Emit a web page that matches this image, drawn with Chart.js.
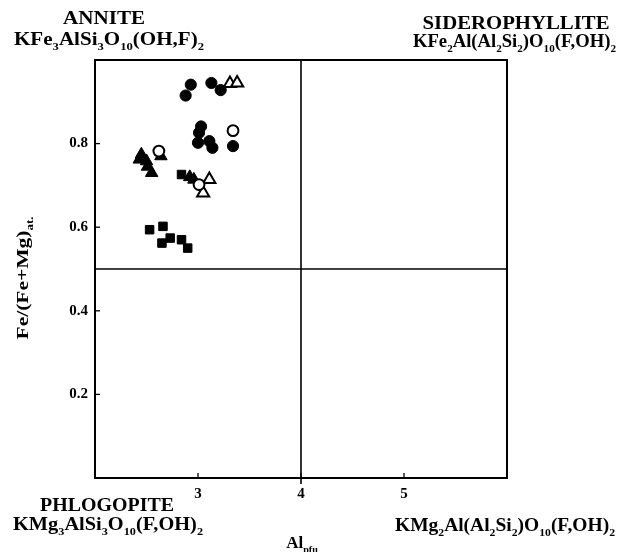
<!DOCTYPE html>
<html>
<head>
<meta charset="utf-8">
<script src="https://cdn.jsdelivr.net/npm/chart.js@4/dist/chart.umd.min.js"></script>
<style>
  html, body { margin: 0; padding: 0; background: #fff; }
  #wrap { width: 631px; height: 552px; }
</style>
</head>
<body>
<div id="wrap"><canvas id="c" width="631" height="552"></canvas></div>
<script>
// Al (pfu) and Fe/(Fe+Mg) for each symbol group
const filledCircleAl = [2.93, 2.88, 3.13, 3.22, 3.03, 3.01, 3.00, 3.11, 3.14, 3.34];
const filledCircleFe = [0.941, 0.915, 0.945, 0.928, 0.841, 0.826, 0.802, 0.806, 0.790, 0.794];

const openCircleAl = [3.34, 2.62, 3.01];
const openCircleFe = [0.831, 0.782, 0.702];

const filledTriangleAl = [2.45, 2.43, 2.50, 2.51, 2.55, 2.64, 2.92, 2.96];
const filledTriangleFe = [0.774, 0.762, 0.758, 0.745, 0.730, 0.770, 0.720, 0.714];

const openTriangleAl = [3.31, 3.38, 3.11, 3.05];
const openTriangleFe = [0.944, 0.945, 0.714, 0.682];

const filledSquareAl = [2.84, 2.53, 2.66, 2.65, 2.73, 2.84, 2.90];
const filledSquareFe = [0.726, 0.594, 0.602, 0.562, 0.574, 0.570, 0.550];

// axis ticks and reference lines
const xTickLabels = [3, 4, 5];
const yTickLabels = [0.2, 0.4, 0.6, 0.8];
const alDivide = 4;
const feDivide = 0.5;

const FONT = '"Liberation Serif", "Times New Roman", serif';

function pts(xs, ys) { return xs.map((x, i) => ({ x: x, y: ys[i] })); }

// "_x" or "_{xy}" marks a subscript
function parseRich(s) {
  const out = []; let i = 0, buf = '';
  while (i < s.length) {
    if (s[i] === '_') {
      if (buf) { out.push([buf, false]); buf = ''; }
      if (s[i + 1] === '{') { const j = s.indexOf('}', i); out.push([s.slice(i + 2, j), true]); i = j + 1; }
      else { out.push([s[i + 1], true]); i += 2; }
    } else { buf += s[i]; i++; }
  }
  if (buf) out.push([buf, false]);
  return out;
}

function drawRich(ctx, s, x, y, size, align, width) {
  const parts = parseRich(s);
  const subSize = size * 0.6;
  const fonts = parts.map(p => 'bold ' + (p[1] ? subSize : size) + 'px ' + FONT);
  const ws = parts.map((p, k) => { ctx.font = fonts[k]; return ctx.measureText(p[0]).width; });
  const natural = ws.reduce((a, b) => a + b, 0);
  const sx = width ? width / natural : 1;
  const total = natural * sx;
  const x0 = align === 'center' ? x - total / 2 : (align === 'right' ? x - total : x);
  ctx.save();
  ctx.translate(x0, y);
  ctx.scale(sx, 1);
  ctx.fillStyle = '#000';
  ctx.textBaseline = 'alphabetic';
  ctx.textAlign = 'left';
  let cx = 0;
  parts.forEach((p, k) => {
    ctx.font = fonts[k];
    ctx.fillText(p[0], cx, p[1] ? size * 0.28 : 0);
    cx += ws[k];
  });
  ctx.restore();
}

const framePlugin = {
  id: 'frame',
  beforeDatasetsDraw(chart) {
    const { ctx, chartArea: a, scales: { x, y } } = chart;
    ctx.save();
    ctx.strokeStyle = '#000';
    ctx.lineWidth = 2;
    ctx.strokeRect(a.left, a.top, a.right - a.left, a.bottom - a.top);
    ctx.lineWidth = 1.6;
    const xv = x.getPixelForValue(alDivide);
    ctx.beginPath(); ctx.moveTo(xv, a.top); ctx.lineTo(xv, a.bottom + 6); ctx.stroke();
    const yv = y.getPixelForValue(feDivide);
    ctx.beginPath(); ctx.moveTo(a.left, yv); ctx.lineTo(a.right, yv); ctx.stroke();
    ctx.lineWidth = 1.3;
    xTickLabels.forEach(v => {
      const px = x.getPixelForValue(v);
      ctx.beginPath(); ctx.moveTo(px, a.bottom); ctx.lineTo(px, a.bottom - 5); ctx.stroke();
    });
    yTickLabels.forEach(v => {
      const py = y.getPixelForValue(v);
      ctx.beginPath(); ctx.moveTo(a.left, py); ctx.lineTo(a.left + 5, py); ctx.stroke();
    });
    ctx.restore();
  },
  afterDraw(chart) {
    const ctx = chart.ctx;
    // end-member names and formulas
    drawRich(ctx, 'ANNITE', 104, 24, 19, 'center', 82);
    drawRich(ctx, 'KFe_3AlSi_3O_{10}(OH,F)_2', 14, 45, 18, 'left', 190);
    drawRich(ctx, 'SIDEROPHYLLITE', 516, 29, 19, 'center', 187);
    drawRich(ctx, 'KFe_2Al(Al_2Si_2)O_{10}(F,OH)_2', 413, 47, 18, 'left', 203);
    drawRich(ctx, 'PHLOGOPITE', 107, 511, 19, 'center', 134);
    drawRich(ctx, 'KMg_3AlSi_3O_{10}(F,OH)_2', 13, 530, 18, 'left', 190);
    drawRich(ctx, 'KMg_2Al(Al_2Si_2)O_{10}(F,OH)_2', 395, 531, 18, 'left', 220);
    // axis titles
    drawRich(ctx, 'Al_{pfu}', 302, 548, 17, 'center');
    ctx.save();
    ctx.translate(28, 278);
    ctx.rotate(-Math.PI / 2);
    drawRich(ctx, 'Fe/(Fe+Mg)_{at.}', 0, 0, 17, 'center', 123);
    ctx.restore();
  }
};

const filledStyle = { backgroundColor: '#000', borderColor: '#000', borderWidth: 1 };
const openStyle = { backgroundColor: '#fff', borderColor: '#000', borderWidth: 2 };

new Chart(document.getElementById('c'), {
  type: 'scatter',
  data: {
    datasets: [
      Object.assign({ label: 'filled circles', data: pts(filledCircleAl, filledCircleFe), pointStyle: 'circle', pointRadius: 5.6 }, filledStyle),
      Object.assign({ label: 'open circles', data: pts(openCircleAl, openCircleFe), pointStyle: 'circle', pointRadius: 5.4 }, openStyle),
      Object.assign({ label: 'filled triangles', data: pts(filledTriangleAl, filledTriangleFe), pointStyle: 'triangle', pointRadius: 7.2 }, filledStyle),
      Object.assign({ label: 'open triangles', data: pts(openTriangleAl, openTriangleFe), pointStyle: 'triangle', pointRadius: 7 }, openStyle),
      Object.assign({ label: 'filled squares', data: pts(filledSquareAl, filledSquareFe), pointStyle: 'rect', pointRadius: 6 }, filledStyle)
    ]
  },
  options: {
    responsive: false,
    animation: false,
    layout: { padding: { left: 0, right: 124, top: 60, bottom: 0 } },
    plugins: { legend: { display: false }, tooltip: { enabled: false } },
    scales: {
      x: {
        type: 'linear', min: 2, max: 6,
        afterFit(s) { s.height = 74; },
        grid: { display: false, drawTicks: false },
        border: { display: false },
        ticks: {
          stepSize: 1, autoSkip: false, maxRotation: 0, padding: 7, color: '#000',
          font: { family: FONT, weight: 'bold', size: 15 },
          callback: v => xTickLabels.includes(v) ? String(v) : ''
        }
      },
      y: {
        type: 'linear', min: 0, max: 1,
        afterFit(s) { s.width = 95; },
        grid: { display: false, drawTicks: false },
        border: { display: false },
        ticks: {
          stepSize: 0.2, autoSkip: false, padding: 7, color: '#000',
          font: { family: FONT, weight: 'bold', size: 15 },
          callback: v => yTickLabels.some(t => Math.abs(t - v) < 1e-6) ? v.toFixed(1) : ''
        }
      }
    }
  },
  plugins: [framePlugin]
});
</script>
</body>
</html>
